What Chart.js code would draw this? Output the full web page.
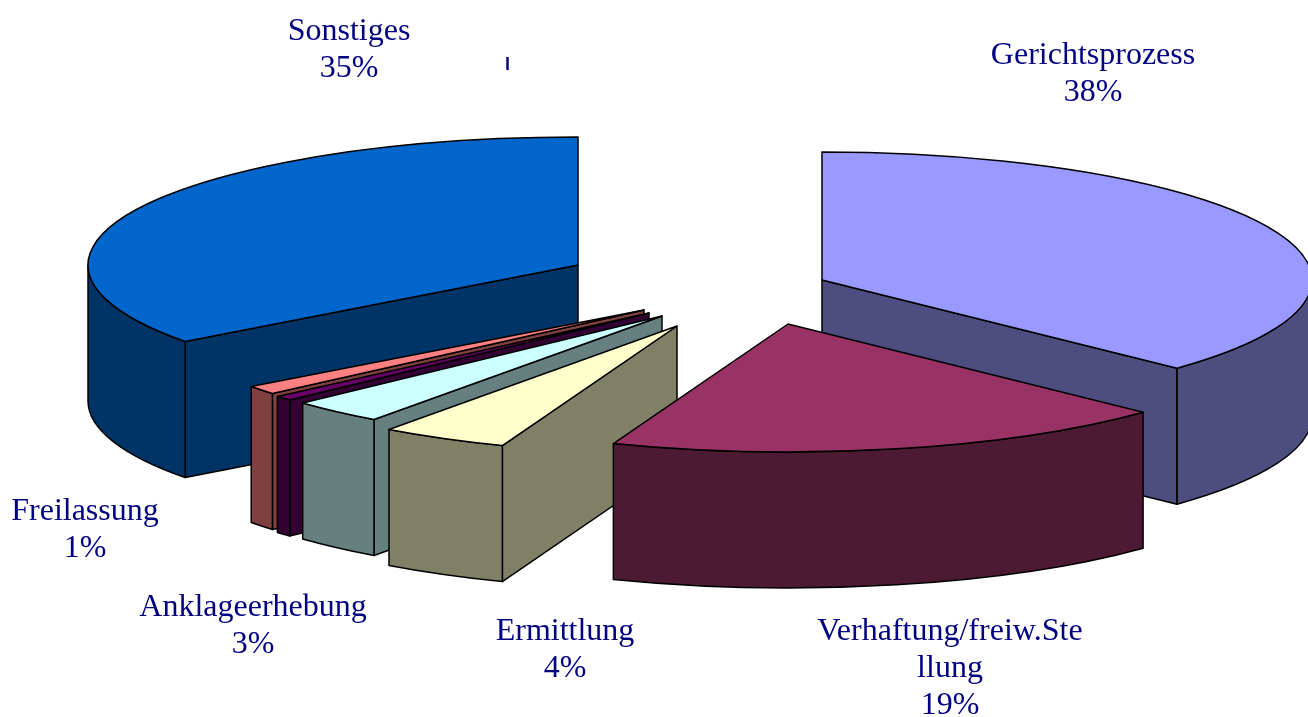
<!DOCTYPE html>
<html>
<head>
<meta charset="utf-8">
<title>Pie</title>
<script src="https://cdn.jsdelivr.net/npm/chart.js@4/dist/chart.umd.js"></script>
<style>
  html, body { margin: 0; padding: 0; background: #fff; overflow: hidden; }
  canvas { display: block; }
</style>
</head>
<body>
<canvas id="myChart" width="1308" height="717"></canvas>
<script>
// data, same order as the slices run clockwise from the top
var categories = ['Gerichtsprozess', 'Verhaftung/freiw.Stellung', 'Ermittlung', 'Anklageerhebung', 'l', 'Freilassung', 'Sonstiges'];
var shares = [37.1, 18.7, 4.2, 3.1, 0.6, 1.1, 35.2];
var shownPercent = ['38%', '19%', '4%', '3%', '', '1%', '35%'];

// look of the slices
var topColors = ['#9999FF', '#993366', '#FFFFCC', '#CCFFFF', '#660066', '#FF8080', '#0066CC'];
var sideColors = ['#4D4D80', '#4D1A33', '#808066', '#668080', '#330033', '#804040', '#003366'];

// the picture is a tilted, exploded pie
var tilt = {
  rx: 490, ry: 128, depth: 136,
  centerX: 700, centerY: 300,
  explodeX: [122, 88, -23, -38, -51, -56, -122],
  explodeY: [-20, 24, 26, 16, 13, 10, -35],
  paintOrder: [6, 0, 5, 4, 3, 2, 1]
};

// label placement, wrapped lines are as in the original
var labelLines = [
  ['Gerichtsprozess', shownPercent[0]],
  ['Verhaftung/freiw.Ste', 'llung', shownPercent[1]],
  ['Ermittlung', shownPercent[2]],
  ['Anklageerhebung', shownPercent[3]],
  [],
  ['Freilassung', shownPercent[5]],
  ['Sonstiges', shownPercent[6]]
];
var labelX = [1093, 950, 565, 253, 0, 85, 349];
var labelY = [56, 632, 632, 608, 0, 512, 32];
var lineGap = 37;
var labelColor = '#000080';

function drawFace(ctx, x, y, t) {
  var px = x + tilt.rx * Math.cos(t), py = y + tilt.ry * Math.sin(t);
  ctx.beginPath();
  ctx.moveTo(x, y);
  ctx.lineTo(px, py);
  ctx.lineTo(px, py + tilt.depth);
  ctx.lineTo(x, y + tilt.depth);
  ctx.closePath();
  ctx.fill();
  ctx.stroke();
}

function drawSlice(ctx, arc, i) {
  var x = tilt.centerX + tilt.explodeX[i];
  var y = tilt.centerY + tilt.explodeY[i];
  var rx = tilt.rx, ry = tilt.ry, d = tilt.depth;
  var a = arc.startAngle, b = arc.endAngle;

  ctx.lineWidth = 1.5;
  ctx.lineJoin = 'round';
  ctx.strokeStyle = '#000';
  ctx.fillStyle = sideColors[i];

  // cut faces, only the ones turned to the viewer
  if (Math.cos(a) < 0) drawFace(ctx, x, y, a);
  if (Math.cos(b) > 0) drawFace(ctx, x, y, b);

  // outer wall, only the front half of the rim shows
  var from = Math.max(a, 0), to = Math.min(b, Math.PI);
  if (to > from) {
    ctx.beginPath();
    ctx.ellipse(x, y, rx, ry, 0, from, to);
    ctx.ellipse(x, y + d, rx, ry, 0, to, from, true);
    ctx.closePath();
    ctx.fill();
    ctx.stroke();
  }

  // top face: the library's own arc, squeezed into the ellipse
  ctx.save();
  ctx.translate(x, y);
  ctx.scale(rx / arc.outerRadius, ry / arc.outerRadius);
  ctx.translate(-arc.x, -arc.y);
  arc.draw(ctx);
  ctx.restore();

  ctx.lineWidth = 1.5;
  ctx.lineJoin = 'round';
  ctx.strokeStyle = '#000';
  ctx.beginPath();
  ctx.moveTo(x, y);
  ctx.ellipse(x, y, rx, ry, 0, a, b);
  ctx.closePath();
  ctx.stroke();
}

var tiltedPie = {
  id: 'tiltedPie',
  beforeDatasetsDraw: function(chart) {
    var arcs = chart.getDatasetMeta(0).data;
    tilt.paintOrder.forEach(function(i) {
      chart.ctx.save();
      drawSlice(chart.ctx, arcs[i], i);
      chart.ctx.restore();
    });
    return false;
  },
  afterDraw: function(chart) {
    var ctx = chart.ctx;
    ctx.save();
    ctx.fillStyle = labelColor;
    ctx.textAlign = 'center';
    ctx.textBaseline = 'middle';
    ctx.font = '32px "Liberation Serif"';
    labelLines.forEach(function(lines, i) {
      lines.forEach(function(line, n) {
        ctx.fillText(line, labelX[i], labelY[i] + n * lineGap);
      });
    });
    // the label of the tiny purple slice is collapsed to a small stroke
    ctx.font = 'bold 18px "Liberation Sans"';
    ctx.fillText(categories[4], 507.5, 65);
    ctx.restore();
  }
};

var myChart = document.getElementById('myChart').getContext('2d');

var massPopChart = new Chart(myChart, {
  type: 'pie',
  data: {
    labels: categories,
    datasets: [{
      data: shares,
      backgroundColor: topColors,
      borderWidth: 0
    }]
  },
  options: {
    responsive: false,
    animation: false,
    events: [],
    layout: { padding: 0 },
    plugins: {
      legend: { display: false },
      tooltip: { enabled: false }
    }
  },
  plugins: [tiltedPie]
});
</script>
</body>
</html>
